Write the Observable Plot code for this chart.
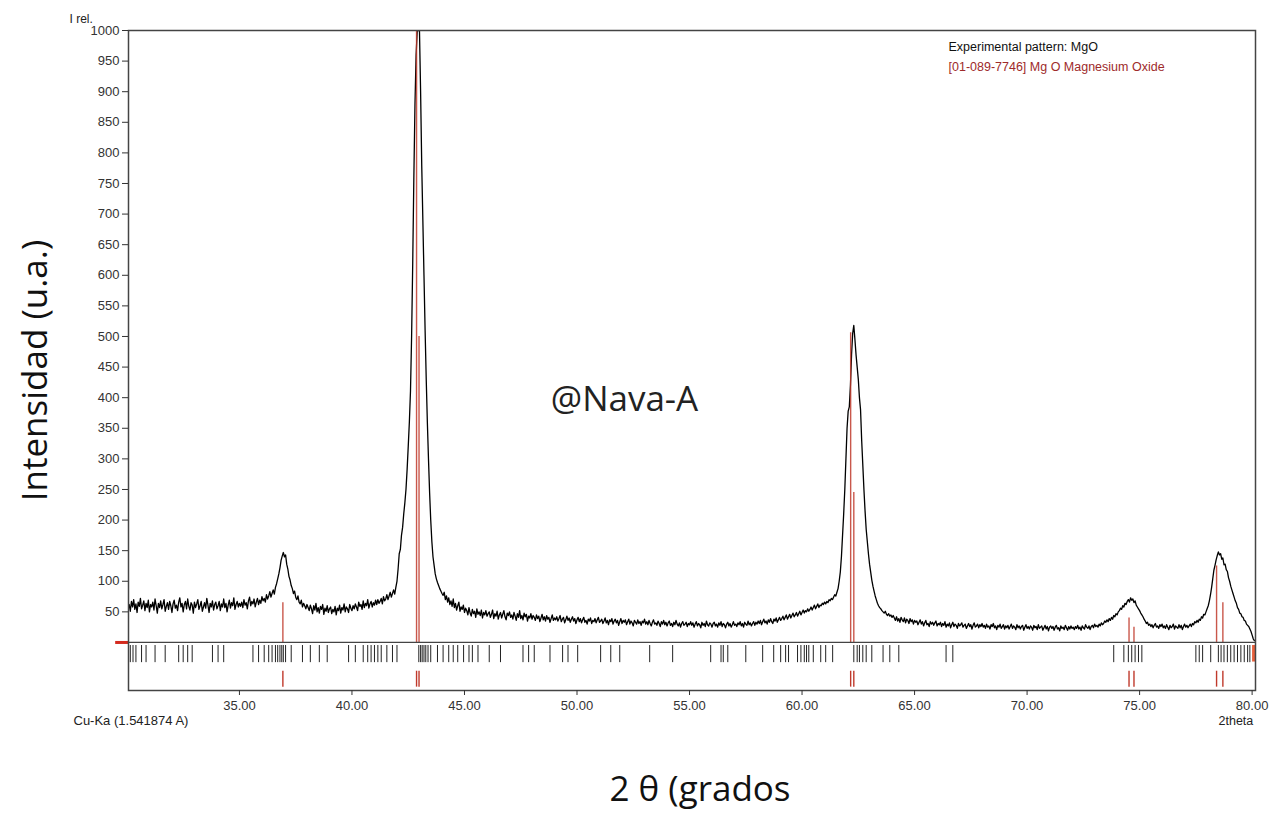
<!DOCTYPE html>
<html>
<head>
<meta charset="utf-8">
<script src="https://cdn.jsdelivr.net/npm/d3@7"></script>
<script src="https://cdn.jsdelivr.net/npm/@observablehq/plot@0.6"></script>
<style>
  html, body { margin: 0; padding: 0; background: #ffffff; }
  #chart svg { display: block; }
</style>
</head>
<body>
<div id="chart"></div>
<script>
// ---- Data ----
const scanStart = 30.1;   // first 2theta of the scan
const scanStep = 0.05;    // 2theta step between readings
const intensity = [
  62, 51, 67, 58, 70, 54, 63, 49, 66, 59, 72, 55, 61, 68, 52, 64, 57, 69, 50, 62,
  58, 66, 53, 71, 60, 48, 64, 57, 68, 55, 62, 70, 51, 59, 65, 54, 67, 60, 49, 63,
  69, 56, 61, 52, 66, 73, 58, 64, 50, 62, 67, 55, 71, 59, 53, 65, 61, 48, 66, 57,
  63, 70, 54, 60, 67, 51, 58, 65, 56, 72, 61, 49, 64, 58, 68, 53, 62, 66, 55, 60,
  67, 52, 63, 58, 71, 57, 64, 50, 61, 69, 56, 65, 60, 73, 54, 62, 67, 58, 64, 59,
  66, 57, 70, 61, 65, 55, 68, 74, 60, 67, 63, 71, 58, 66, 72, 62, 69, 64, 75, 68,
  72, 66, 78, 71, 76, 83, 74, 80, 86, 79, 90, 96, 104, 112, 122, 134, 141, 147, 140, 143,
  128, 120, 108, 102, 93, 88, 80, 84, 74, 70, 76, 66, 63, 69, 58, 64, 60, 55, 62, 57,
  52, 61, 55, 47, 60, 53, 64, 50, 57, 48, 59, 54, 62, 46, 56, 51, 60, 49, 55, 58,
  47, 54, 50, 59, 45, 56, 52, 61, 48, 57, 53, 63, 50, 58, 55, 49, 62, 56, 52, 60,
  55, 63, 58, 52, 66, 59, 62, 54, 68, 57, 64, 60, 70, 56, 63, 67, 58, 65, 61, 69,
  62, 70, 64, 67, 72, 63, 75, 68, 71, 78, 70, 76, 82, 74, 80, 86, 79, 90, 100, 120,
  145, 152, 175, 188, 210, 228, 250, 282, 320, 360, 410, 500, 620, 760, 880, 960, 1000, 1000, 1000, 900,
  780, 690, 600, 510, 430, 360, 300, 245, 200, 165, 140, 126, 112, 104, 98, 93, 88, 84, 80, 77,
  82, 70, 76, 66, 73, 62, 68, 59, 71, 57, 64, 53, 60, 66, 51, 58, 54, 61, 49, 56,
  52, 45, 57, 48, 43, 54, 47, 51, 41, 55, 46, 50, 44, 53, 40, 49, 45, 52, 43, 47,
  50, 41, 46, 53, 39, 47, 43, 51, 38, 45, 49, 40, 46, 52, 42, 37, 48, 44, 50, 41,
  45, 38, 49, 43, 36, 47, 41, 52, 39, 44, 37, 48, 42, 46, 35, 43, 40, 47, 38, 44,
  41, 36, 45, 39, 43, 34, 40, 46, 37, 42, 35, 44, 38, 41, 33, 39, 45, 36, 40, 37,
  42, 35, 39, 44, 34, 38, 41, 32, 37, 43, 36, 40, 33, 38, 42, 35, 39, 31, 37, 41,
  34, 39, 32, 37, 41, 33, 36, 30, 38, 35, 40, 31, 36, 34, 39, 32, 37, 41, 33, 35,
  38, 31, 35, 40, 32, 36, 29, 37, 34, 39, 30, 35, 38, 32, 36, 28, 34, 39, 31, 36,
  33, 37, 29, 34, 38, 30, 35, 32, 27, 36, 33, 30, 37, 31, 34, 28, 35, 32, 38, 30,
  34, 29, 36, 31, 27, 33, 37, 30, 32, 28, 35, 31, 26, 34, 30, 36, 29, 33, 27, 32,
  35, 28, 31, 26, 33, 29, 36, 30, 27, 32, 25, 31, 34, 28, 30, 33, 26, 31, 29, 34,
  28, 32, 25, 30, 34, 27, 31, 29, 24, 33, 28, 31, 26, 35, 29, 27, 32, 30, 25, 31,
  33, 27, 30, 25, 32, 28, 34, 26, 31, 29, 24, 30, 33, 27, 31, 25, 29, 34, 28, 30,
  26, 32, 29, 34, 27, 31, 25, 33, 30, 28, 35, 29, 32, 27, 31, 34, 28, 33, 30, 35,
  31, 36, 29, 34, 38, 32, 35, 30, 37, 33, 39, 34, 31, 38, 35, 40, 33, 37, 41, 36,
  39, 43, 37, 41, 45, 38, 42, 46, 40, 44, 48, 42, 45, 49, 43, 47, 51, 45, 49, 53,
  48, 52, 50, 55, 51, 54, 58, 53, 57, 61, 55, 59, 63, 57, 61, 60, 64, 62, 66, 63,
  67, 65, 70, 68, 72, 70, 74, 78, 76, 82, 88, 100, 115, 140, 175, 210, 250, 300, 350, 378,
  385, 420, 470, 505, 518, 495, 470, 450, 430, 400, 380, 330, 290, 250, 215, 185, 165, 145, 128, 115,
  102, 92, 84, 76, 70, 64, 60, 57, 55, 52, 50, 48, 51, 46, 44, 47, 43, 45, 41, 44,
  40, 36, 42, 35, 39, 33, 41, 37, 34, 40, 32, 38, 36, 31, 39, 34, 37, 30, 36, 33,
  35, 29, 33, 37, 30, 34, 27, 32, 36, 29, 31, 26, 34, 30, 33, 28, 32, 35, 27, 31,
  29, 33, 26, 31, 28, 34, 25, 30, 27, 32, 24, 29, 33, 26, 30, 28, 23, 31, 27, 29,
  32, 25, 28, 30, 23, 27, 31, 26, 29, 22, 28, 32, 25, 27, 30, 24, 29, 26, 31, 25,
  28, 23, 30, 25, 27, 22, 29, 26, 31, 24, 27, 21, 28, 25, 30, 23, 26, 29, 22, 27,
  24, 28, 22, 26, 30, 23, 27, 25, 21, 29, 24, 27, 22, 26, 28, 20, 25, 29, 23, 26,
  22, 27, 25, 20, 28, 24, 26, 21, 29, 23, 25, 27, 20, 24, 28, 22, 26, 19, 25, 27,
  23, 26, 20, 25, 28, 22, 24, 19, 27, 23, 25, 21, 28, 24, 20, 26, 22, 27, 23, 25,
  21, 26, 23, 28, 22, 25, 20, 27, 24, 22, 29, 25, 23, 27, 21, 26, 28, 24, 30, 26,
  28, 25, 30, 27, 32, 29, 31, 35, 33, 37, 34, 39, 36, 41, 38, 44, 42, 47, 45, 50,
  52, 56, 54, 60, 58, 64, 62, 67, 70, 66, 73, 69, 71, 65, 68, 61, 58, 55, 52, 48,
  45, 42, 38, 35, 31, 33, 28, 30, 26, 29, 24, 28, 31, 25, 27, 23, 29, 26, 30, 24,
  27, 23, 29, 25, 21, 28, 24, 26, 30, 22, 27, 25, 23, 29, 24, 28, 21, 26, 30, 25,
  28, 24, 27, 30, 26, 31, 29, 34, 32, 36, 33, 38, 36, 42, 40, 46, 45, 50, 55, 60,
  68, 78, 90, 104, 118, 126, 135, 142, 148, 143, 145, 136, 138, 127, 128, 119, 116, 106, 100, 92,
  86, 80, 74, 68, 64, 57, 54, 48, 47, 42, 41, 36, 35, 30, 28, 26, 22, 18, 12, 6,
  3
];

// Reference pattern [01-089-7746] MgO: stick positions and relative intensities
const refPos = [36.93, 42.87, 42.98, 62.16, 62.30, 74.53, 74.75, 78.42, 78.70];
const refInt = [65, 1000, 500, 506, 245, 40, 25, 125, 65];

// Positions of the black marker ticks in the strip under the pattern
const markerPos = [
  30.15, 30.27, 30.4, 30.65, 30.85, 31.25, 31.7, 32.3, 32.5, 32.7, 32.9,
  33.8, 34.05, 34.3, 35.6, 35.85, 36.1, 36.3, 36.45, 36.6, 36.7, 36.8, 36.88,
  36.95, 37.05, 37.3, 37.8, 38.15, 38.55, 38.9, 39.85, 40.15, 40.5, 40.7,
  40.85, 41.0, 41.15, 41.3, 41.55, 41.8, 42.0, 42.97, 43.05, 43.12, 43.2,
  43.28, 43.38, 43.5, 43.8, 44.05, 44.3, 44.5, 44.7, 44.96, 45.2, 45.35,
  45.6, 46.1, 46.6, 47.6, 47.85, 48.1, 48.8, 49.36, 49.6, 50.03, 51.05,
  51.5, 51.9, 53.23, 54.25, 55.94, 56.4, 56.5, 56.7, 57.5, 58.25, 58.74,
  59.05, 59.27, 59.4, 59.8, 59.95, 60.1, 60.2, 60.3, 60.5, 60.83, 61.05,
  61.36, 62.3, 62.45, 62.55, 62.7, 62.85, 63.1, 63.6, 63.9, 64.3, 66.4,
  66.7, 73.85, 74.3, 74.5, 74.65, 74.8, 74.95, 75.1, 77.5, 77.65, 77.8,
  78.16, 78.5, 78.62, 78.75, 78.9, 79.05, 79.2, 79.35, 79.5, 79.65, 79.8, 79.9
];

const yTicks = [50, 100, 150, 200, 250, 300, 350, 400, 450, 500, 550, 600, 650, 700, 750, 800, 850, 900, 950, 1000];
const xTicks = [35, 40, 45, 50, 55, 60, 65, 70, 75, 80];

const legendLines = ["Experimental pattern: MgO", "[01-089-7746] Mg O Magnesium Oxide"];

// ---- Build tables ----
const pattern = intensity.map((v, i) => ({ t: +(scanStart + i * scanStep).toFixed(2), v }));
const sticks = refPos.map((p, i) => ({ p, h: refInt[i] }));

const small = "Liberation Sans, Arial, sans-serif";
const big = "Open Sans, Noto Sans, sans-serif";
const red = "#c0392b";

const chart = Plot.plot({
  width: 1283,
  height: 826,
  marginLeft: 128,
  marginRight: 28,
  marginTop: 30,
  marginBottom: 136,
  style: { fontFamily: small, background: "#ffffff", color: "#333" },
  x: { domain: [30.07, 80.15], label: null },
  y: { domain: [-78.5, 1000], label: null },
  marks: [
    // strip markers below the pattern
    Plot.ruleX(markerPos, { x: d => d, y1: -5, y2: -33, stroke: "#222", strokeWidth: 1 }),
    Plot.ruleX(refPos, { x: d => d, y1: -47, y2: -73, stroke: red, strokeWidth: 1.4 }),
    Plot.rect([80.02], { x1: d => d, x2: 80.15, y1: -5, y2: -32, fill: "#e8603c" }),
    // experimental pattern
    Plot.line(pattern, { x: "t", y: "v", stroke: "#000", strokeWidth: 1.3, clip: true }),
    // reference sticks
    Plot.ruleX(sticks, { x: "p", y1: 0, y2: "h", stroke: red, strokeWidth: 1.4, strokeOpacity: 0.85 }),
    // baseline line and red zero marker
    Plot.ruleY([0], { stroke: "#444", strokeWidth: 1.2 }),
    Plot.ruleY([0], { x1: 29.5, x2: 30.07, stroke: "#d42a1e", strokeWidth: 3 }),
    Plot.frame({ stroke: "#444", strokeWidth: 1.5 }),
    Plot.axisY({ ticks: yTicks, tickSize: 6, tickPadding: 3, fontSize: 13, label: null, tickFormat: d => String(d) }),
    Plot.axisX({ ticks: xTicks, tickSize: 5, tickPadding: 5, fontSize: 13, label: null, tickFormat: d3.format(".2f") }),
    // small texts
    Plot.text(["I rel."], { frameAnchor: "top-left", dx: -59, dy: -16, textAnchor: "start", fontSize: 12, fill: "#222" }),
    Plot.text(["Cu-Ka (1.541874 A)"], { frameAnchor: "bottom-left", dx: -55, dy: 34, textAnchor: "start", fontSize: 13, fill: "#222" }),
    Plot.text(["2theta"], { frameAnchor: "bottom-right", dx: -37, dy: 34, textAnchor: "start", fontSize: 12.5, fill: "#222" }),
    Plot.text([legendLines[0]], { frameAnchor: "top-left", dx: 820, dy: 12, textAnchor: "start", fontSize: 12.5, fill: "#111" }),
    Plot.text([legendLines[1]], { frameAnchor: "top-left", dx: 820, dy: 32, textAnchor: "start", fontSize: 12.5, fill: "#9e2a2a" }),
    // large annotations
    Plot.text(["@Nava-A"], { frameAnchor: "top-left", dx: 496, dy: 356, textAnchor: "middle", fontSize: 35, fontFamily: big, fill: "#222" }),
    Plot.text(["Intensidad (u.a.)"], { frameAnchor: "left", dx: -93, dy: 10, rotate: -90, textAnchor: "middle", fontSize: 35, fontFamily: big, fill: "#111" }),
    Plot.text(["2 θ (grados"], { frameAnchor: "bottom", dx: 8, dy: 110, textAnchor: "middle", fontSize: 35, fontFamily: big, fill: "#111" })
  ]
});
document.getElementById("chart").appendChild(chart);
</script>
</body>
</html>
